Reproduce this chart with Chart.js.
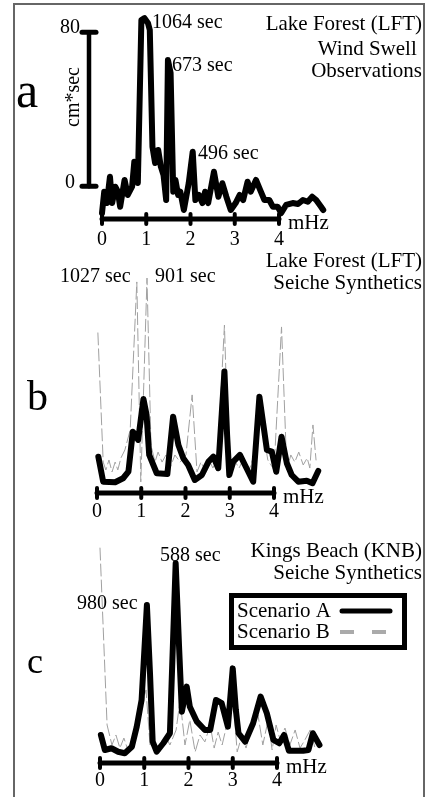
<!DOCTYPE html>
<html lang="en">
<head>
<meta charset="UTF-8">
<title>Seiche spectra - LFT / KNB</title>
<style>
  html, body { margin: 0; padding: 0; background: #fff; }
  #page { position: relative; width: 426px; height: 797px; overflow: hidden; }
  #page canvas { position: absolute; left: 0; }
  #frame { position: absolute; left: 13px; top: 3px; width: 408px; height: 810px;
           border: 2px solid #666; border-bottom: none; pointer-events: none; }
</style>
</head>
<body>
<div id="page">
  <canvas id="panelA" width="426" height="250" style="top:0"></canvas>
  <canvas id="panelB" width="426" height="270" style="top:250px"></canvas>
  <canvas id="panelC" width="426" height="277" style="top:520px"></canvas>
  <div id="frame"></div>
</div>

<script src="https://cdn.jsdelivr.net/npm/chart.js@4.4.1/dist/chart.umd.min.js"></script>
<script>
// ---- data ----
const freqTicks = [0, 1, 2, 3, 4];          // mHz
const barTicks = [0, 80];                   // cm*sec scale bar

// a: Lake Forest wind swell observations
const obsFreq = [0.00, 0.05, 0.11, 0.18, 0.23, 0.30, 0.36, 0.41, 0.51, 0.58, 0.68, 0.73, 0.81, 0.89, 0.96,
    1.04, 1.08, 1.14, 1.20, 1.27, 1.33, 1.39, 1.45, 1.49, 1.55, 1.61, 1.66, 1.72, 1.77, 1.85, 1.96, 2.05,
    2.11, 2.19, 2.27, 2.33, 2.40, 2.53, 2.63, 2.72, 2.81, 2.91, 3.02, 3.11, 3.19, 3.29, 3.36, 3.48, 3.59,
    3.67, 3.78, 3.86, 3.97, 4.05, 4.16, 4.31, 4.43, 4.54, 4.65, 4.75, 4.84, 4.95, 5.00];
const obsAmp = [1.0, 12.1, 6.2, 19.9, 6.2, 14.7, 12.1, 4.3, 18.2, 10.4, 14.7, 27.7, 16.6, 101.3, 102.3,
    99.6, 96.1, 35.5, 27.0, 33.8, 25.1, 20.8, 7.8, 80.5, 73.8, 12.1, 18.2, 10.4, 12.1, 2.6, 16.6, 32.9,
    7.8, 10.4, 6.2, 12.1, 6.2, 22.5, 9.5, 16.5, 9.5, 2.6, 6.2, 10.4, 7.8, 17.3, 12.1, 18.2, 12.1,
    7.8, 7.8, 4.3, 4.3, 1.0, 5.2, 6.2, 5.7, 7.8, 6.9, 9.5, 7.8, 4.3, 2.6];
const obsPeaks = ['1064 sec', '673 sec', '496 sec'];

// b: Lake Forest seiche synthetics
const lftFreqA = [0.03, 0.14, 0.41, 0.59, 0.71, 0.81, 0.93, 1.05, 1.12, 1.18, 1.35, 1.59, 1.72, 1.84, 1.95,
    2.06, 2.21, 2.37, 2.52, 2.63, 2.74, 2.88, 2.94, 2.99, 3.08, 3.23, 3.38, 3.53, 3.67, 3.76, 3.84, 3.95,
    4.05, 4.17, 4.29, 4.40, 4.55, 4.74, 4.87, 5.00];
const lftAmpA = [17.3, 4.3, 4.0, 6.1, 9.5, 30.3, 26.0, 47.3, 39.0, 18.2, 8.7, 8.3, 38.1, 23.4, 16.5,
    13.0, 5.2, 7.8, 14.7, 17.3, 11.3, 61.5, 28.6, 7.8, 14.7, 18.2, 11.3, 4.3, 48.5, 33.8, 20.8, 19.9,
    9.5, 27.7, 13.9, 7.8, 4.3, 4.8, 3.5, 9.9];
const lftFreqB = [0.02, 0.14, 0.20, 0.27, 0.34, 0.41, 0.47, 0.54, 0.63, 0.75, 0.90, 0.99, 1.13, 1.22, 1.31,
    1.38, 1.47, 1.56, 1.65, 1.76, 1.88, 2.01, 2.15, 2.26, 2.35, 2.44, 2.53, 2.62, 2.73, 2.88, 2.98, 3.10,
    3.21, 3.32, 3.44, 3.55, 3.66, 3.75, 3.86, 4.00, 4.17, 4.29, 4.38, 4.47, 4.56, 4.66, 4.75, 4.81, 4.88, 4.95];
const lftAmpB = [81.6, 14.5, 10.4, 15.6, 9.4, 14.5, 10.4, 16.6, 20.8, 31.2, 108.1, 4.2, 110.1, 23.4, 14.5,
    19.7, 14.5, 18.2, 11.4, 18.2, 14.5, 18.2, 49.4, 9.4, 14.5, 10.4, 15.6, 11.4, 18.2, 85.7, 10.4, 15.6,
    11.4, 16.6, 10.4, 18.2, 46.8, 31.2, 15.6, 10.4, 84.7, 10.4, 18.2, 14.5, 19.7, 13.0, 16.6, 11.4, 33.8, 15.6];
const lftPeaks = ['1027 sec', '901 sec'];

// c: Kings Beach seiche synthetics
const knbFreqA = [0.02, 0.11, 0.26, 0.41, 0.56, 0.72, 0.83, 0.94, 1.06, 1.13, 1.19, 1.28, 1.43, 1.58, 1.71,
    1.79, 1.85, 1.96, 2.03, 2.19, 2.37, 2.49, 2.62, 2.75, 2.89, 3.00, 3.07, 3.13, 3.28, 3.46, 3.63, 3.77,
    3.92, 4.05, 4.16, 4.27, 4.59, 4.71, 4.81, 4.96];
const knbAmpA = [13.0, 5.2, 6.1, 4.3, 3.5, 6.9, 17.3, 31.2, 80.5, 45.0, 9.5, 4.3, 8.7, 13.9, 102.2,
    57.1, 25.1, 38.1, 27.7, 19.9, 15.6, 15.6, 31.2, 29.5, 17.3, 47.6, 26.0, 13.9, 9.5, 19.1, 32.9, 24.3,
    10.4, 8.7, 13.0, 4.8, 4.8, 5.2, 13.9, 7.8];
const knbFreqB = [0.00, 0.16, 0.27, 0.36, 0.45, 0.54, 0.63, 0.77, 0.90, 1.04, 1.13, 1.24, 1.36, 1.47, 1.58,
    1.72, 1.81, 1.92, 2.03, 2.15, 2.26, 2.37, 2.49, 2.58, 2.67, 2.76, 2.89, 3.01, 3.10, 3.21, 3.30, 3.44,
    3.57, 3.68, 3.80, 3.89, 3.98, 4.07, 4.18, 4.29, 4.41, 4.52, 4.63, 4.75, 4.86];
const knbAmpB = [110.1, 18.2, 7.8, 13.0, 6.2, 11.4, 5.2, 13.0, 24.9, 36.4, 7.8, 9.4, 4.2, 13.0, 7.8,
    15.6, 31.2, 7.8, 20.8, 4.2, 13.0, 9.4, 18.2, 6.2, 14.5, 7.8, 20.8, 31.2, 4.2, 13.0, 6.2, 18.2,
    23.4, 7.8, 20.8, 5.2, 18.2, 10.4, 16.6, 7.8, 15.6, 6.2, 10.4, 15.6, 6.2];
const knbPeaks = ['588 sec', '980 sec'];

// ---- drawing ----
const FONT = '"Liberation Serif", "Times New Roman", serif';
const PX_PER_MHZ = 44.25;
const PX_PER_UNIT = 1.925;
const BAR_BASE = 15;   // where the scale bar starts in panel a

function pts(xs, ys) {
    return xs.map((x, i) => ({ x: x, y: ys[i] }));
}

function text(ctx, str, x, y, size, align) {
    ctx.font = size + 'px ' + FONT;
    ctx.textAlign = align || 'left';
    ctx.textBaseline = 'alphabetic';
    ctx.fillStyle = '#000';
    ctx.fillText(str, x, y);
}

function freqAxis(chart, axisY, labelDy) {
    const ctx = chart.ctx, xs = chart.scales.x;
    const x0 = xs.getPixelForValue(freqTicks[0]);
    const x1 = xs.getPixelForValue(freqTicks[freqTicks.length - 1]);
    ctx.save();
    ctx.strokeStyle = '#000';
    ctx.lineCap = 'round';
    ctx.lineWidth = 5;
    ctx.beginPath(); ctx.moveTo(x0, axisY); ctx.lineTo(x1, axisY); ctx.stroke();
    ctx.lineWidth = 4;
    freqTicks.forEach(t => {
        const x = xs.getPixelForValue(t);
        ctx.beginPath(); ctx.moveTo(x, axisY - 5); ctx.lineTo(x, axisY + 5); ctx.stroke();
        text(ctx, String(t), x, axisY + labelDy, 20, 'center');
    });
    text(ctx, 'mHz', x1 + 9, axisY + 10, 21);
    ctx.restore();
}

function blackLine(label, data) {
    return { label: label, data: data, borderColor: '#000', borderWidth: 6, pointRadius: 0, fill: false };
}
function greyLine(label, data) {
    return { label: label, data: data, borderColor: '#a0a0a0', borderWidth: 1, borderDash: [12, 4],
             pointRadius: 0, fill: false };
}

function panel(id, x0px, zeroPx, datasets, decorate) {
    const cv = document.getElementById(id);
    const w = cv.width, h = cv.height;
    return new Chart(cv, {
        type: 'line',
        data: { datasets: datasets },
        options: {
            responsive: false,
            animation: false,
            events: [],
            layout: { padding: 0, autoPadding: false },
            plugins: { legend: { display: false }, tooltip: { enabled: false } },
            scales: {
                x: { type: 'linear', display: false, min: -x0px / PX_PER_MHZ, max: (w - x0px) / PX_PER_MHZ },
                y: { type: 'linear', display: false, min: (zeroPx - h) / PX_PER_UNIT, max: zeroPx / PX_PER_UNIT }
            },
            elements: { line: { tension: 0, borderJoinStyle: 'round', borderCapStyle: 'round' } }
        },
        plugins: [{ id: 'deco_' + id, afterDatasetsDraw: decorate }]
    });
}

// panel a
panel('panelA', 102, 215, [blackLine('Observations', pts(obsFreq, obsAmp))], chart => {
    const ctx = chart.ctx, ys = chart.scales.y;
    text(ctx, 'a', 16, 107, 50);
    const yTop = ys.getPixelForValue(BAR_BASE + barTicks[1]);
    const yBot = ys.getPixelForValue(BAR_BASE + barTicks[0]);
    ctx.save();
    ctx.strokeStyle = '#000';
    ctx.lineCap = 'round';
    ctx.lineWidth = 4.5;
    ctx.beginPath(); ctx.moveTo(89, yTop); ctx.lineTo(89, yBot); ctx.stroke();
    ctx.lineWidth = 5;
    ctx.beginPath(); ctx.moveTo(82, yTop); ctx.lineTo(96, yTop); ctx.stroke();
    ctx.beginPath(); ctx.moveTo(82, yBot); ctx.lineTo(96, yBot); ctx.stroke();
    text(ctx, String(barTicks[1]), 80, yTop + 1, 20, 'right');
    text(ctx, String(barTicks[0]), 75, yBot + 2, 20, 'right');
    ctx.translate(79, 97);
    ctx.rotate(-Math.PI / 2);
    text(ctx, 'cm*sec', 0, 0, 20, 'center');
    ctx.restore();

    text(ctx, obsPeaks[0], 152, 28, 20);
    text(ctx, obsPeaks[1], 172, 71, 20);
    text(ctx, obsPeaks[2], 198, 159, 20);

    text(ctx, 'Lake Forest (LFT)', 422, 30, 21, 'right');
    text(ctx, 'Wind Swell ', 422, 55, 21, 'right');
    text(ctx, 'Observations', 422, 77, 21, 'right');

    freqAxis(chart, 219, 26);
});

// panel b
panel('panelB', 97, 240, [
    blackLine('Scenario A', pts(lftFreqA, lftAmpA)),
    greyLine('Scenario B', pts(lftFreqB, lftAmpB))
], chart => {
    const ctx = chart.ctx;
    text(ctx, 'b', 27, 160, 42);
    text(ctx, lftPeaks[0], 60, 32, 20);
    text(ctx, lftPeaks[1], 155, 32, 20);
    text(ctx, 'Lake Forest (LFT)', 422, 17, 21, 'right');
    text(ctx, 'Seiche Synthetics', 422, 39, 21, 'right');
    freqAxis(chart, 243, 24);
});

// panel c
panel('panelC', 100, 240, [
    blackLine('Scenario A', pts(knbFreqA, knbAmpA)),
    greyLine('Scenario B', pts(knbFreqB, knbAmpB))
], chart => {
    const ctx = chart.ctx, ds = chart.data.datasets;
    text(ctx, 'c', 27, 153, 36);
    text(ctx, knbPeaks[0], 160, 41, 20);
    text(ctx, knbPeaks[1], 77, 89, 20);
    text(ctx, 'Kings Beach (KNB)', 422, 37, 21, 'right');
    text(ctx, 'Seiche Synthetics', 422, 59, 21, 'right');

    // legend box
    ctx.save();
    ctx.fillStyle = '#fff';
    ctx.fillRect(229, 73, 178, 57);
    ctx.strokeStyle = '#000';
    ctx.lineWidth = 5;
    ctx.strokeRect(231.5, 75.5, 173, 52);
    text(ctx, ds[0].label, 237, 97, 21);
    text(ctx, ds[1].label, 237, 118, 21);
    ctx.lineCap = 'round';
    ctx.lineWidth = 5;
    ctx.beginPath(); ctx.moveTo(342, 91); ctx.lineTo(390, 91); ctx.stroke();
    ctx.lineCap = 'butt';
    ctx.strokeStyle = '#aaa';
    ctx.lineWidth = 4;
    ctx.setLineDash([14, 18]);
    ctx.beginPath(); ctx.moveTo(340, 112); ctx.lineTo(392, 112); ctx.stroke();
    ctx.restore();

    freqAxis(chart, 243, 23);
});
</script>
</body>
</html>
